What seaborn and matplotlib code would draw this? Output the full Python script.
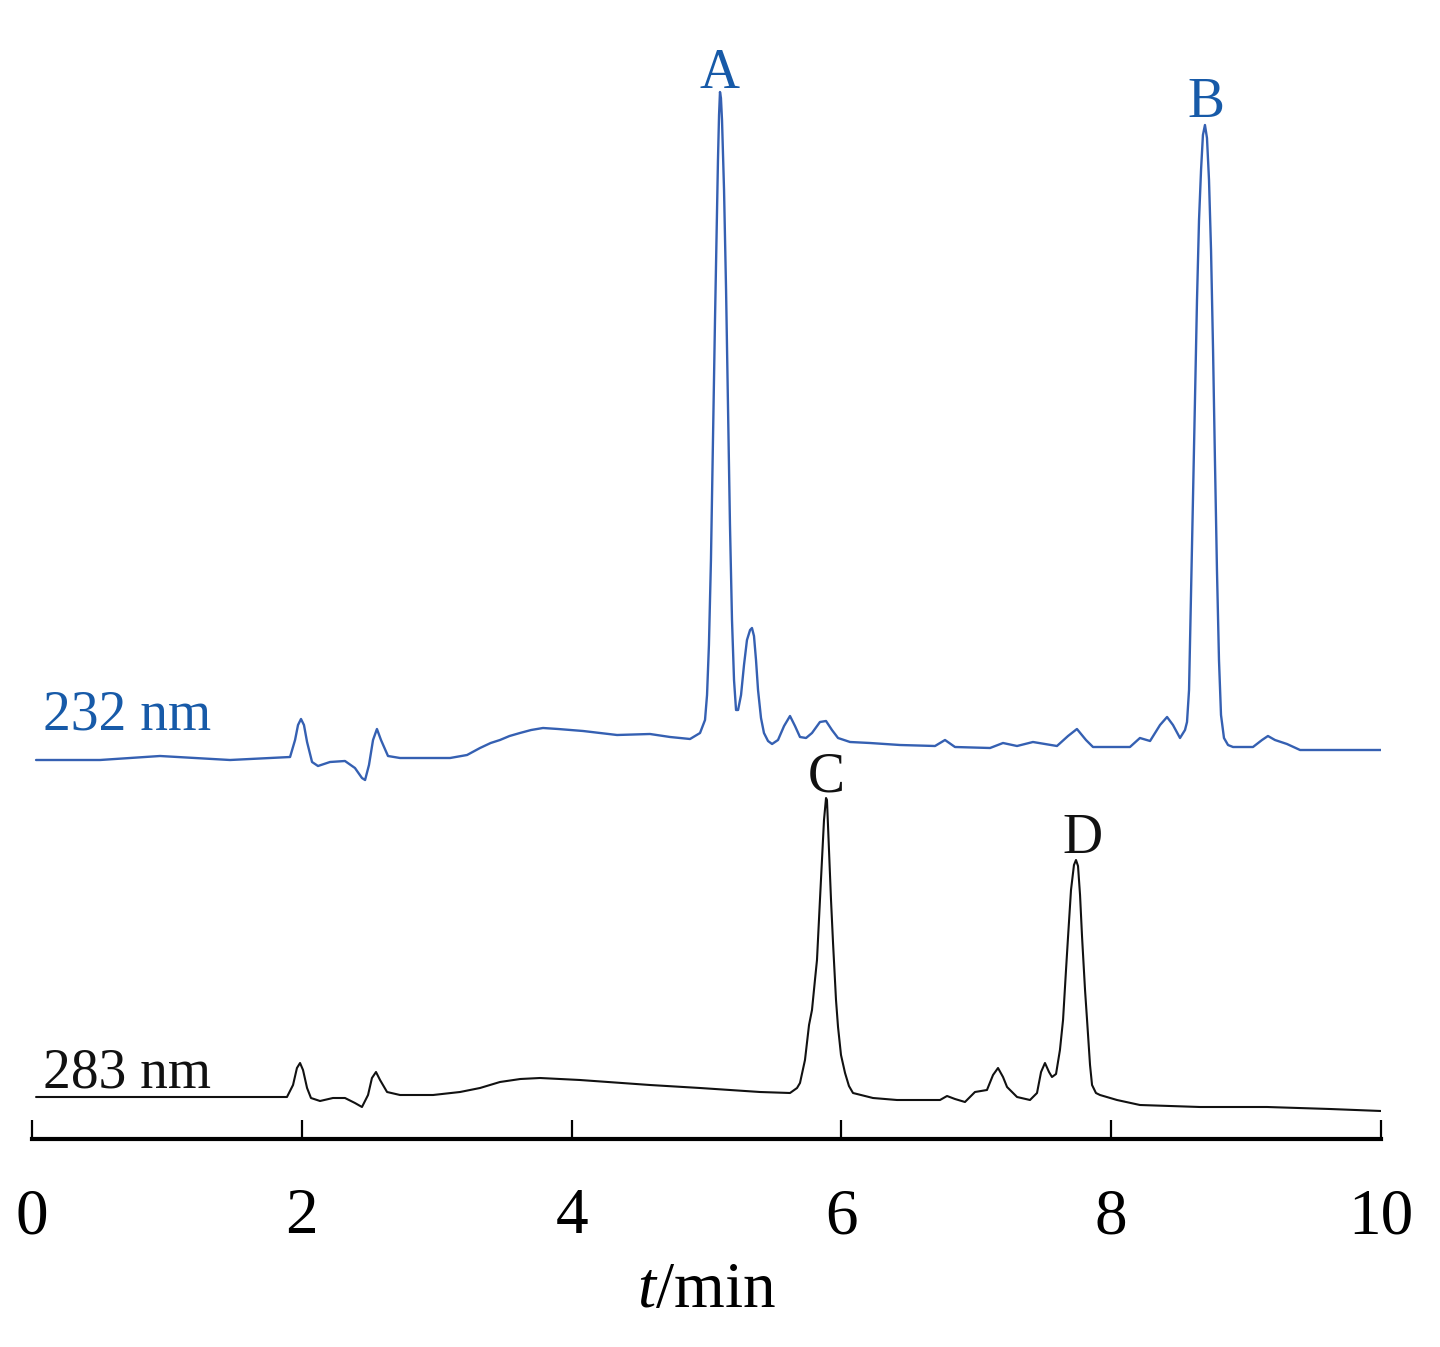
import numpy as np
import pandas as pd
import matplotlib
matplotlib.use('Agg')
import matplotlib.pyplot as plt
import seaborn as sns

# Chromatogram at 232 nm (blue trace), time in min, signal relative to its own baseline
t_232 = [0.030, 0.504, 0.949, 1.468, 1.913, 1.950, 1.972, 1.994, 2.016, 2.039,
         2.076, 2.120, 2.209, 2.320, 2.394, 2.446, 2.469, 2.498, 2.528, 2.557,
         2.587, 2.639, 2.728, 3.099, 3.225, 3.321, 3.400, 3.469, 3.540, 3.617,
         3.700, 3.788, 3.900, 4.085, 4.337, 4.581, 4.730, 4.878, 4.952,
         4.989, 5.004, 5.018, 5.033, 5.048, 5.063, 5.078, 5.085, 5.093, 5.100,
         5.107, 5.115, 5.130, 5.145, 5.160, 5.174, 5.189, 5.204, 5.219, 5.234,
         5.256, 5.278, 5.300, 5.323, 5.337, 5.352, 5.367, 5.382, 5.404, 5.426,
         5.456, 5.486,
         5.530, 5.575, 5.619, 5.656, 5.693, 5.738, 5.782, 5.841, 5.886, 5.930,
         5.975, 6.064, 6.212, 6.434, 6.694, 6.768, 6.842, 7.102, 7.198, 7.302,
         7.420, 7.598, 7.680, 7.746, 7.813, 7.865, 8.139, 8.213, 8.288, 8.362,
         8.414, 8.458, 8.510,
         8.547, 8.562, 8.577, 8.591, 8.606, 8.621, 8.636, 8.651, 8.666, 8.680,
         8.695, 8.710, 8.725, 8.740, 8.755, 8.769, 8.784, 8.799, 8.814, 8.836,
         8.866,
         8.903, 9.051, 9.118, 9.162, 9.214, 9.303, 9.400, 9.696, 10.000]
s_232 = [0.0, 0.0, 0.4, 0.0, 0.3, 2.0, 3.5, 4.1, 3.5, 1.8,
         -0.2, -0.6, -0.2, -0.1, -0.8, -1.8, -2.0, -0.5, 2.0, 3.1,
         2.0, 0.4, 0.2, 0.2, 0.5, 1.2, 1.7, 2.0, 2.4, 2.7,
         3.0, 3.2, 3.1, 2.9, 2.5, 2.6, 2.3, 2.1, 2.7,
         4.0, 6.5, 11.5, 20.0, 32.0, 44.0, 55.0, 60.0, 64.5, 66.8,
         66.2, 64.0, 57.0, 47.0, 35.0, 23.5, 14.0, 8.0, 5.0, 5.0,
         6.5, 9.5, 12.0, 13.0, 13.2, 12.4, 10.0, 7.0, 4.2, 2.7,
         1.9, 1.6,
         2.0, 3.4, 4.4, 3.4, 2.3, 2.2, 2.7, 3.8, 3.9, 3.0,
         2.2, 1.8, 1.7, 1.5, 1.4, 2.0, 1.3, 1.2, 1.7, 1.4,
         1.8, 1.4, 2.4, 3.1, 2.0, 1.3, 1.3, 2.2, 1.9, 3.5,
         4.3, 3.5, 2.2,
         3.0, 3.8, 7.0, 16.0, 26.0, 36.0, 46.0, 54.0, 59.0, 62.5,
         63.5, 62.2, 58.0, 51.0, 41.0, 30.0, 19.0, 10.0, 4.5, 2.2,
         1.5,
         1.3, 1.3, 2.0, 2.4, 2.0, 1.6, 1.0, 1.0, 1.0]

# Chromatogram at 283 nm (black trace)
t_283 = [0.030, 0.875, 1.890, 1.935, 1.964, 1.987, 2.009, 2.039, 2.068, 2.135,
         2.231, 2.320, 2.394, 2.446, 2.491, 2.520, 2.550, 2.580, 2.632, 2.728,
         2.973, 3.173, 3.321, 3.469, 3.620, 3.766, 4.062, 4.581, 4.952, 5.397, 5.619,
         5.671, 5.693, 5.730, 5.760, 5.782, 5.804, 5.819, 5.841, 5.856, 5.871,
         5.886, 5.893, 5.908, 5.923, 5.938, 5.960, 5.975, 5.997, 6.027, 6.056,
         6.086, 6.234, 6.412, 6.731, 6.783, 6.842, 6.916, 6.990, 7.079, 7.124,
         7.161, 7.198, 7.228, 7.302, 7.398, 7.450, 7.480, 7.509, 7.539, 7.561,
         7.591, 7.620, 7.643, 7.665, 7.680, 7.702, 7.724, 7.739, 7.754, 7.769,
         7.784, 7.806, 7.821, 7.843, 7.858, 7.887, 7.917, 8.043, 8.213, 8.658,
         9.155, 9.622, 10.000]
s_283 = [0.0, 0.0, 0.0, 1.2, 2.9, 3.4, 2.7, 0.9, -0.1, -0.4,
         -0.1, -0.1, -0.6, -1.0, 0.2, 1.9, 2.5, 1.7, 0.5, 0.2,
         0.2, 0.5, 0.9, 1.5, 1.8, 1.9, 1.7, 1.2, 0.9, 0.5, 0.4,
         0.9, 1.4, 3.7, 7.2, 8.7, 11.7, 13.7, 19.7, 23.7, 27.7,
         29.9, 29.7, 24.7, 19.7, 15.4, 9.7, 7.0, 4.2, 2.4, 1.1,
         0.4, -0.1, -0.3, -0.3, 0.1, -0.2, -0.5, 0.5, 0.7, 2.2,
         2.9, 2.0, 1.0, 0.0, -0.3, 0.4, 2.5, 3.4, 2.5, 2.0,
         2.3, 4.7, 7.7, 12.7, 16.0, 20.7, 23.2, 23.7, 23.1, 20.2,
         16.0, 10.7, 7.7, 3.2, 1.2, 0.4, 0.2, -0.3, -0.8, -1.0,
         -1.0, -1.2, -1.4]

wavelengths = ['232 nm', '283 nm']
peak_names = ['A', 'B', 'C', 'D']
x_ticks = [0, 2, 4, 6, 8, 10]

blue_line = '#3560b2'
blue_text = '#175aa8'
black = '#111111'

sns.set_style('white')
plt.rcParams['font.family'] = ['Liberation Serif', 'DejaVu Serif']
plt.rcParams['mathtext.fontset'] = 'custom'
plt.rcParams['mathtext.rm'] = 'Liberation Serif'
plt.rcParams['mathtext.it'] = 'Liberation Serif:italic'

df_232 = pd.DataFrame({'t': t_232, 's': np.array(s_232) + 37.9})
df_283 = pd.DataFrame({'t': t_283, 's': np.array(s_283) + 4.2})

fig = plt.figure(figsize=(14.4, 13.47), dpi=100)
ax = fig.add_axes([32 / 1440, 1 - 1139 / 1347, 1349 / 1440, 1139 / 1347])

sns.lineplot(data=df_232, x='t', y='s', color=blue_line, linewidth=1.7, ax=ax)
sns.lineplot(data=df_283, x='t', y='s', color=black, linewidth=1.5, ax=ax)

ax.set_xlim(0, 10)
ax.set_ylim(0, 113.9)

# peak letters over the maxima
def label_peak(df, lo, hi, name, color, dx=0.0, gap=0.6):
    sub = df[(df.t > lo) & (df.t < hi)]
    row = sub.loc[sub.s.idxmax()]
    ax.text(row.t + dx, row.s + gap, name, ha='center', va='baseline',
            fontsize=40, color=color)

label_peak(df_232, 4.9, 5.3, peak_names[0], blue_text, gap=0.4)
label_peak(df_232, 8.5, 8.9, peak_names[1], blue_text, dx=0.01, gap=0.8)
label_peak(df_283, 5.7, 6.1, peak_names[2], black, gap=0.6)
label_peak(df_283, 7.6, 7.9, peak_names[3], black, dx=0.045, gap=0.7)

ax.text(0.08, 40.9, wavelengths[0], ha='left', va='baseline', fontsize=40, color=blue_text)
ax.text(0.08, 5.2, wavelengths[1], ha='left', va='baseline', fontsize=40, color=black)

for side in ['left', 'top', 'right']:
    ax.spines[side].set_visible(False)
ax.spines['bottom'].set_linewidth(3)
ax.spines['bottom'].set_color('black')

ax.set_xticks(x_ticks)
ax.set_xticklabels([str(v) for v in x_ticks])
ax.set_yticks([])
ax.tick_params(axis='x', bottom=True, direction='in', length=14, width=1.6,
               color='black', labelcolor='black', labelsize=47, pad=35)
ax.set_xlabel('$t$/min', fontsize=47, labelpad=10, color='black')
ax.set_ylabel('')

fig.savefig('out.png', dpi=100)
